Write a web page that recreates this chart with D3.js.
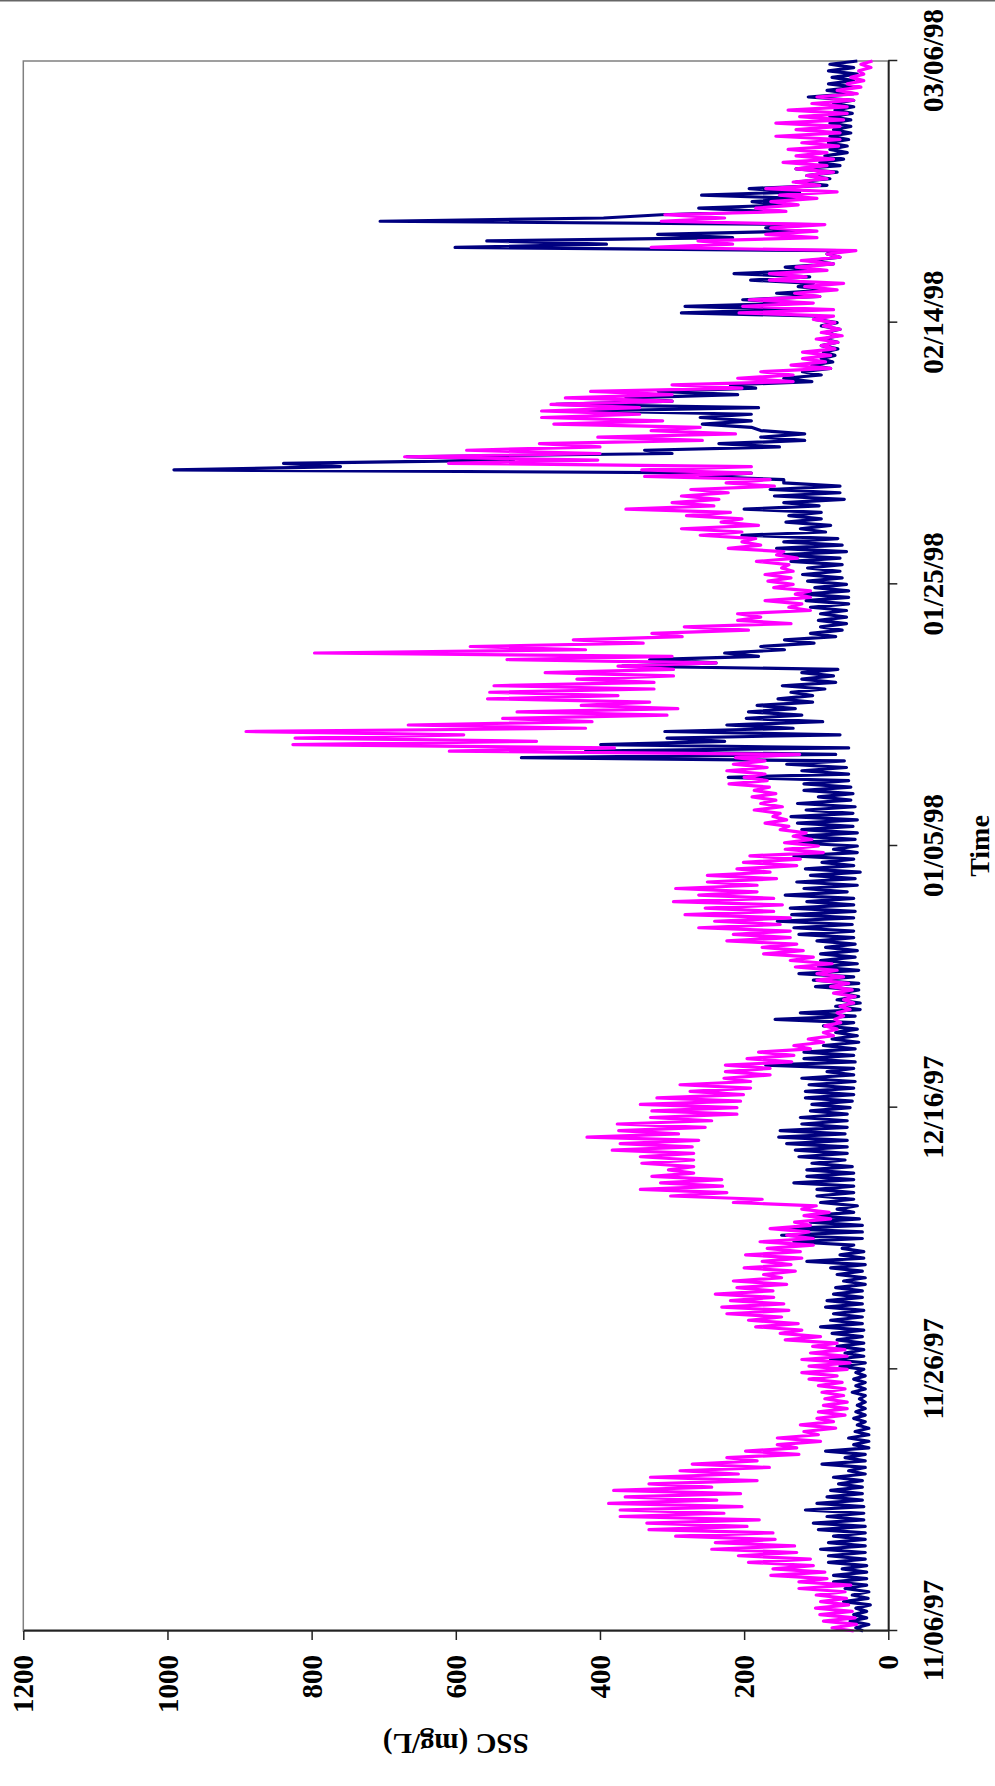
<!DOCTYPE html>
<html>
<head>
<meta charset="utf-8">
<script src="https://cdn.jsdelivr.net/npm/d3@7/dist/d3.min.js"></script>
<style>
  body { margin: 0; background: #fff; }
  svg { display: block; }
  text { font-family: "Liberation Serif", "Times New Roman", serif; font-weight: bold; fill: #000; }
</style>
</head>
<body>
<div id="vis"></div>
<script>
// readings every 6 hours from 11/06/97 00:00 to 03/06/98 00:00
const startDate = Date.UTC(1997, 10, 6);
const stepHours = 6;

const timeTicks = ['1997-11-06', '1997-11-26', '1997-12-16', '1998-01-05', '1998-01-25', '1998-02-14', '1998-03-06'];
const sscTicks = [0, 200, 400, 600, 800, 1000, 1200];

// magenta series, 4 readings a day, by month
const pinkNov = [
  48, 78, 44, 90,  46, 95, 50, 101,  55, 94, 58, 100,  60, 124, 52, 124,  85, 163, 88, 160,
  104, 194, 108, 208,  127, 245, 130, 240,  157, 295, 160, 332,  196, 335, 179, 372,  228, 372, 203, 388,
  238, 365, 205, 381,  245, 332, 182, 330,  208, 289, 165, 272,  182, 224, 124, 198,  127, 154, 94, 154,
  97, 117, 73, 122,  76, 99, 60, 97,  57, 90, 57, 88,  62, 92, 60, 97,  64, 110, 71, 120,
  57, 110, 53, 120,  57, 108, 60, 105,  71, 143, 94, 150,  120, 184, 125, 194,  148, 224, 138, 231
];
const pinkDec = [
  145, 219, 159, 240,  160, 210, 141, 215,  148, 173, 129, 200,  135, 175, 120, 198,  122, 168, 104, 178,
  104, 141, 110, 164,  108, 130, 80, 117,  82, 120, 100, 215,  175, 302, 224, 344,  230, 316, 231, 328,
  270, 305, 270, 342,  270, 344, 270, 383,  272, 372, 263, 418,  291, 374, 254, 376,  245, 330, 210, 328,
  210, 344, 205, 321,  201, 275, 191, 289,  191, 228, 164, 226,  164, 226, 134, 196,  131, 180, 108, 131,
  90, 111, 76, 90,  71, 88, 66, 74,  62, 71, 53, 67,  48, 62, 46, 76,  50, 80, 55, 99,
  62, 99, 71, 129,  78, 136, 104, 173,  118, 175, 127, 224,  136, 215, 136, 263,  150, 241, 136, 282,
  159, 254, 147, 298
];
const pinkJan = [
  159, 263, 182, 295,  182, 251, 155, 251,  164, 210, 127, 201,  122, 192, 90, 143,  97, 144, 106, 132,
  114, 150, 138, 171,  141, 160, 150, 186,  147, 177, 156, 189,  156, 186, 165, 221,  168, 200, 171, 224,
  168, 215, 171, 212,  123, 609, 380, 826,  488, 823, 589, 891,  420, 666, 411, 535,  307, 515, 292, 426,
  331, 556, 375, 553,  325, 547, 325, 432,  298, 476, 298, 375,  239, 529, 300, 796,  420, 580, 340, 437,
  286, 328, 194, 283,  135, 209, 177, 209,  108, 138, 120, 171,  108, 129, 108, 159,  132, 167, 135, 171,
  132, 148, 138, 183,  126, 155, 145, 222,  177, 203, 184, 261,  203, 287, 180, 232,  203, 280, 219, 364,
  242, 300, 235, 287
];
const pinkFeb = [
  222, 274, 158, 225,  164, 338, 190, 342,  190, 610, 403, 671,  400, 585, 400, 484,  258, 403, 212, 329,
  261, 464, 313, 481,  345, 481, 345, 468,  300, 448, 300, 413,  203, 300, 132, 209,  132, 177, 80, 135,
  87, 119, 80, 119,  74, 93, 70, 100,  64, 93, 67, 90,  74, 104, 76, 207,  76, 202, 104, 193,
  95, 130, 71, 116,  62, 165, 114, 165,  85, 128, 76, 121,  67, 85, 45, 329,  216, 264, 99, 170,
  99, 163, 88, 315,  227, 310, 142, 184,  125, 163, 99, 151,  71, 170, 95, 132,  85, 113, 76, 128,
  85, 146, 76, 128,  85, 139, 69, 120,  67, 156, 67, 128
];
const pinkMar = [
  67, 156, 62, 123,  57, 139, 57, 106,  48, 99, 43, 71,  38, 57, 34, 52,  34, 41, 24, 38,
  22
];

// navy series, 4 readings a day, by month
const navyNov = [
  35, 45, 27, 53,  30, 48, 30, 45,  25, 62, 28, 50,  27, 60, 30, 76,  30, 76, 30, 64,
  30, 83, 32, 83,  32, 94, 32, 83,  32, 76, 32, 97,  32, 104, 34, 85,  34, 115, 34, 99,
  36, 85, 36, 80,  36, 69, 36, 76,  32, 55, 32, 92,  32, 60, 32, 87,  27, 48, 27, 55,
  27, 46, 27, 43,  32, 48, 32, 45,  32, 43, 32, 40,  32, 50, 32, 45,  32, 48, 32, 45,
  34, 67, 32, 80,  34, 60, 34, 71,  34, 71, 36, 78,  34, 94, 36, 80,  36, 76, 34, 87
];
const navyDec = [
  36, 85, 36, 76,  36, 73, 32, 62,  32, 71, 36, 80,  32, 113, 34, 67,  34, 64, 48, 131,
  36, 148, 36, 145,  36, 108, 40, 110,  48, 71, 43, 94,  48, 99, 48, 99,  48, 131, 48, 113,
  48, 113, 50, 106,  60, 124, 57, 129,  57, 141, 57, 152,  60, 150, 57, 120,  57, 122, 57, 108,
  53, 106, 50, 115,  48, 115, 48, 110,  46, 120, 48, 85,  48, 170, 46, 117,  48, 117, 46, 90,
  41, 78, 43, 73,  43, 90, 48, 157,  46, 122, 39, 73,  39, 71, 41, 67,  41, 101, 41, 104,
  48, 124, 41, 97,  43, 94, 46, 94,  43, 87, 46, 99,  48, 124, 48, 131,  50, 154, 48, 134,
  46, 136, 48, 113
];
const navyJan = [
  48, 143, 57, 117,  43, 127, 46, 108,  39, 115, 48, 92,  48, 131, 43, 76,  43, 135, 46, 123,
  43, 120, 49, 126,  43, 135, 49, 114,  46, 126, 52, 97,  49, 117, 52, 117,  55, 222, 55, 120,
  58, 141, 61, 509,  73, 420, 55, 399,  227, 307, 67, 310,  132, 224, 91, 197,  120, 194, 129, 182,
  105, 153, 105, 135,  88, 147, 73, 120,  76, 120, 70, 369,  239, 331, 180, 227,  144, 177, 103, 144,
  73, 108, 64, 94,  58, 97, 58, 94,  58, 108, 55, 114,  55, 117, 55, 102,  58, 112, 64, 119,
  67, 112, 64, 135,  67, 151, 58, 155,  64, 145, 70, 203,  87, 122, 80, 142,  93, 138, 93, 200,
  96, 145, 61, 158
];
const navyFeb = [
  67, 164, 67, 145,  145, 261, 190, 991,  760, 839, 520, 668,  300, 338, 151, 235,  116, 177, 116, 177,
  190, 258, 190, 261,  190, 420, 180, 461,  300, 364, 209, 319,  184, 219, 106, 145,  93, 119, 80, 106,
  77, 93, 74, 90,  70, 93, 70, 90,  70, 87, 67, 93,  71, 102, 95, 287,  133, 282, 118, 202,
  95, 155, 81, 125,  104, 191, 109, 214,  109, 143, 76, 109,  67, 85, 67, 601,  391, 557, 216, 320,
  123, 170, 104, 705,  395, 315, 170, 263,  142, 189, 128, 259,  123, 193, 85, 128,  81, 113, 71, 128,
  67, 95, 62, 88,  57, 81, 57, 83,  55, 81, 52, 76
];
const navyMar = [
  52, 81, 52, 81,  50, 74, 48, 76,  48, 111, 48, 85,  45, 83, 48, 78,  43, 83, 48, 81,
  43
];

const pink = [].concat(pinkNov, pinkDec, pinkJan, pinkFeb, pinkMar);
const navy = [].concat(navyNov, navyDec, navyJan, navyFeb, navyMar);

const toPoints = arr => arr.map((v, i) => ({ date: new Date(startDate + i * stepHours * 3600e3), value: v }));

// the chart is drawn in its normal orientation, then turned a quarter turn anticlockwise
const W = 1570, H = 865;
const plotLeft = 23.3, plotBottom = 1631;

const svg = d3.select('#vis').append('svg')
  .attr('width', 995)
  .attr('height', 1786);

// thin rule along the page top
svg.append('line')
  .attr('x1', 0).attr('x2', 995).attr('y1', 0.75).attr('y2', 0.75)
  .attr('stroke', '#666').attr('stroke-width', 1.5);

const g = svg.append('g')
  .attr('transform', `translate(${plotLeft},${plotBottom}) rotate(-90)`);

const x = d3.scaleUtc()
  .domain([new Date(startDate), new Date(Date.UTC(1998, 2, 6))])
  .range([0, W]);
const y = d3.scaleLinear().domain([0, 1200]).range([H, 0]);

// plot area border
g.append('rect')
  .attr('width', W).attr('height', H)
  .attr('fill', 'none').attr('stroke', '#808080').attr('stroke-width', 1.5);

const line = d3.line()
  .x(d => x(d.date))
  .y(d => y(d.value));

g.append('path')
  .datum(toPoints(navy))
  .attr('d', line)
  .attr('fill', 'none').attr('stroke', '#000080')
  .attr('stroke-width', 3.2).attr('stroke-linejoin', 'round');

g.append('path')
  .datum(toPoints(pink))
  .attr('d', line)
  .attr('fill', 'none').attr('stroke', '#FF00FF')
  .attr('stroke-width', 3.2).attr('stroke-linejoin', 'round');

// time axis
const xAxis = g.append('g')
  .attr('transform', `translate(0,${H})`)
  .call(d3.axisBottom(x)
    .tickValues(timeTicks.map(s => new Date(s + 'T00:00:00Z')))
    .tickFormat(d3.utcFormat('%m/%d/%y'))
    .tickSize(9).tickSizeOuter(0));

// SSC axis
const yAxis = g.append('g')
  .call(d3.axisLeft(y).tickValues(sscTicks).tickFormat(d3.format('d'))
    .tickSize(9).tickSizeOuter(0));

[xAxis, yAxis].forEach(ax => {
  ax.select('.domain').attr('stroke', '#222').attr('stroke-width', 1.8);
  ax.selectAll('.tick line').attr('stroke', '#222').attr('stroke-width', 1.5);
  ax.selectAll('.tick text').attr('fill', '#000').style('font-size', '29px');
});
xAxis.selectAll('.tick text').attr('y', 55).attr('dy', null);
yAxis.selectAll('.tick text').attr('x', -24).attr('dy', '0.33em');

// axis titles
g.append('text')
  .attr('x', W / 2).attr('y', H + 101)
  .attr('text-anchor', 'middle')
  .style('font-size', '28px')
  .text('Time');

g.append('text')
  .attr('transform', `translate(-103,${H / 2}) rotate(-90)`)
  .attr('text-anchor', 'middle')
  .style('font-size', '29px')
  .text('SSC (mg/L)');
</script>
</body>
</html>
